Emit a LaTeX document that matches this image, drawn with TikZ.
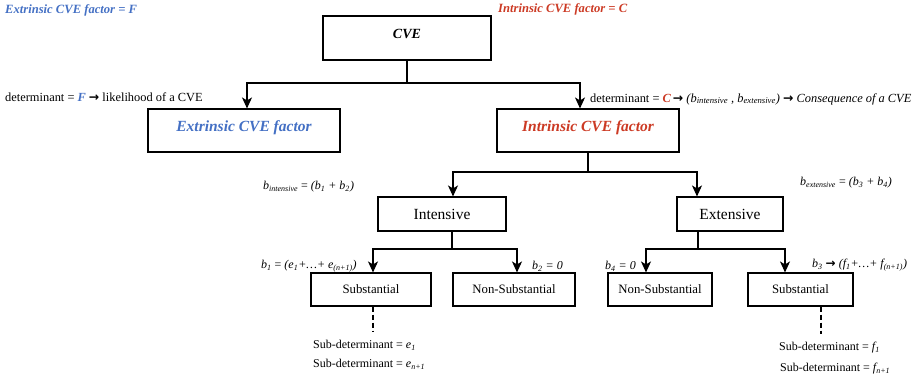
\documentclass[tikz,border=0pt]{standalone}
\usepackage{fontspec}
\setmainfont{Liberation Serif}
\newfontfamily\arrowfont{DejaVu Sans}
\usetikzlibrary{arrows.meta}
\definecolor{extblue}{RGB}{68,112,196}
\definecolor{intred}{RGB}{204,58,36}
\newcommand{\fs}[1]{\fontsize{#1}{#1}\selectfont}
\newcommand{\sbs}[1]{\textsubscript{\itshape #1}}
\newcommand{\vF}{\textcolor{extblue}{\bfseries\itshape F}}
\newcommand{\vC}{\textcolor{intred}{\bfseries\itshape C}}
\newcommand{\ar}{{\arrowfont\bfseries\upshape →}}
\begin{document}
\begin{tikzpicture}[x=1pt,y=-1pt,
  box/.style={draw,line width=1.1pt,inner sep=0pt,align=center},
  link/.style={line width=1.1pt},
  arr/.style={line width=1.1pt,-{Stealth[length=11pt,width=10pt,inset=3pt]}},
  dashlead/.style={line width=1.1pt,dash pattern=on 5pt off 3pt},
  lbl/.style={inner sep=0pt,anchor=west,font=\fs{12}}]
\useasboundingbox (0,0) rectangle (917,382);

% headings
\node[lbl,text=extblue,font=\fs{12.6}\bfseries\itshape] (hF) at (5,10) {Extrinsic CVE factor = F};
\node[lbl,text=intred,font=\fs{12.6}\bfseries\itshape] (hC) at (498,9) {Intrinsic CVE factor = C};

% boxes
\node[box,minimum width=168,minimum height=44,text depth=8pt,font=\fs{14}\bfseries\itshape] (cve) at (407,38) {CVE};
\node[box,minimum width=192,minimum height=43,text depth=8pt,font=\fs{15.5}\bfseries\itshape,text=extblue] (ext) at (244,130.5) {Extrinsic CVE factor};
\node[box,minimum width=182,minimum height=43,text depth=8pt,font=\fs{15.5}\bfseries\itshape,text=intred] (int) at (588,130.5) {Intrinsic CVE factor};
\node[box,minimum width=128,minimum height=34,font=\fs{15.5}] (ins) at (442,214) {Intensive};
\node[box,minimum width=106,minimum height=34,font=\fs{15.5}] (exs) at (730,214) {Extensive};
\node[box,minimum width=120,minimum height=33,font=\fs{12.8}] (subL) at (371,289.5) {Substantial};
\node[box,minimum width=122,minimum height=33,font=\fs{12.8}] (nsL) at (514,289.5) {Non-Substantial};
\node[box,minimum width=104,minimum height=33,font=\fs{12.8}] (nsR) at (660,289.5) {Non-Substantial};
\node[box,minimum width=105,minimum height=33,font=\fs{12.8}] (subR) at (800.5,289.5) {Substantial};

% junction points of the tree
\coordinate (j1) at (407,83);
\coordinate (j2) at (588,172);
\coordinate (j3) at (452,249);
\coordinate (j4) at (698,249);

% connectors
\draw[link] (cve.south) -- (j1);
\draw[arr] (j1) -| ([xshift=3]ext.north);
\draw[arr] (j1) -| ([xshift=-8]int.north);
\draw[link] (int.south) -- (j2);
\draw[arr] (j2) -| ([xshift=11]ins.north);
\draw[arr] (j2) -| ([xshift=-33]exs.north);
\draw[link] ([xshift=10]ins.south) -- (j3);
\draw[arr] (j3) -| ([xshift=2]subL.north);
\draw[arr] (j3) -| ([xshift=3]nsL.north);
\draw[link] ([xshift=-32]exs.south) -- (j4);
\draw[arr] (j4) -| ([xshift=-14]nsR.north);
\draw[arr] (j4) -| ([xshift=-15.5]subR.north);

% dashed sub-determinant leads
\coordinate (dL) at (373,332);
\coordinate (dR) at (821,334);
\draw[dashlead] ([xshift=2]subL.south) -- (dL);
\draw[dashlead] ([xshift=20.5]subR.south) -- (dR);

% determinant labels
\node[lbl,font=\fs{12.4}] (detF) at (5,97) {determinant = \vF{} \ar{} likelihood of a CVE};
\node[lbl,font=\fs{12.4}] (detC) at (590,99) {determinant = \vC{}\,\ar{} \textit{(b\sbs{intensive} , b\sbs{extensive})} \ar{} \textit{Consequence of a CVE}};

% b-labels
\node[lbl] (bint) at (263,187) {\textit{b\sbs{intensive}} = \textit{(b\sbs{1} + b\sbs{2})}};
\node[lbl] (bext) at (800,183) {\textit{b\sbs{extensive}} = \textit{(b\sbs{3} + b\sbs{4})}};
\node[lbl] (b1) at (261,266) {\textit{b\sbs{1}} = \textit{(e\sbs{1}+…+ e\sbs{(n+1)})}};
\node[lbl] (b2) at (532,266) {\textit{b\sbs{2} = 0}};
\node[lbl] (b4) at (605,266) {\textit{b\sbs{4} = 0}};
\node[lbl] (b3) at (812,265) {\textit{b\sbs{3}} \ar{} \textit{(f\sbs{1}+…+ f\sbs{(n+1)})}};

% sub-determinants
\node[lbl] (sdL1) at (313,345) {Sub-determinant = \textit{e\sbs{1}}};
\node[lbl] (sdL2) at (313,364) {Sub-determinant = \textit{e\sbs{n+1}}};
\node[lbl] (sdR1) at (779,348) {Sub-determinant = \textit{f\sbs{1}}};
\node[lbl] (sdR2) at (780,369) {Sub-determinant = \textit{f\sbs{n+1}}};
\end{tikzpicture}
\end{document}
